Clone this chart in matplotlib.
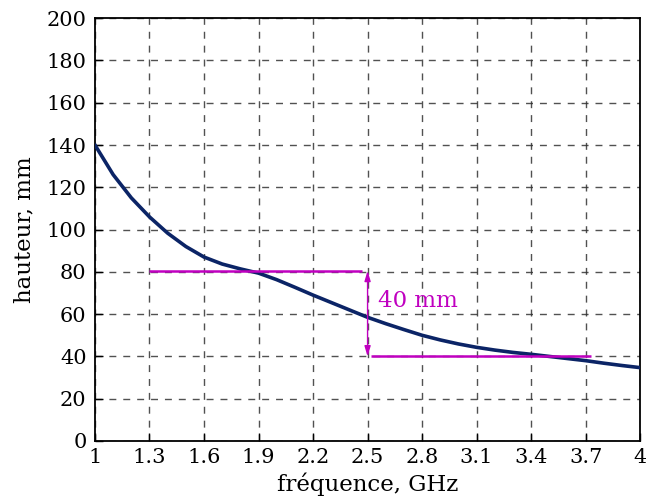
import matplotlib
matplotlib.use("Agg")
import matplotlib.pyplot as plt

# Height vs frequency curve
freq_ghz = [1.0, 1.1, 1.2, 1.3, 1.4, 1.5, 1.6, 1.7, 1.8, 1.9, 2.0,
            2.1, 2.2, 2.3, 2.4, 2.5, 2.6, 2.7, 2.8, 2.9, 3.0,
            3.1, 3.2, 3.3, 3.4, 3.5, 3.6, 3.7, 3.8, 3.9, 4.0]
height_mm = [140, 126, 115, 106, 98.3, 92, 87, 83.7, 81.4, 79.4, 76.3,
             72.7, 69, 65.5, 62, 58.5, 55.5, 52.7, 50, 47.8, 45.9,
             44.3, 43, 41.9, 41, 40, 39, 38, 36.8, 35.7, 34.7]

# Reference levels and annotation
upper_level = 80.5
lower_level = 40
upper_span = [1.3, 2.47]
lower_span = [2.52, 3.73]
arrow_x = 2.5
arrow_label = "40 mm"

x_ticks = [1, 1.3, 1.6, 1.9, 2.2, 2.5, 2.8, 3.1, 3.4, 3.7, 4]
x_tick_labels = ["1", "1.3", "1.6", "1.9", "2.2", "2.5", "2.8", "3.1", "3.4", "3.7", "4"]
y_ticks = list(range(0, 201, 20))

navy = "#0b2466"
magenta = "#c000c0"

plt.rcParams["font.family"] = ["DejaVu Serif"]

fig = plt.figure(figsize=(6.46, 5.04), dpi=100)
ax = fig.add_axes([0.147, 0.125, 0.844, 0.839])

ax.plot(freq_ghz, height_mm, color=navy, lw=2.6, solid_capstyle="round",
        solid_joinstyle="round", zorder=3)

ax.hlines(upper_level, upper_span[0], upper_span[1], color=magenta, lw=1.8, zorder=4)
ax.hlines(lower_level, lower_span[0], lower_span[1], color=magenta, lw=1.8, zorder=4)
ax.annotate("", xy=(arrow_x, lower_level), xytext=(arrow_x, upper_level),
            arrowprops=dict(arrowstyle="<|-|>,head_length=0.6,head_width=0.18",
                            color=magenta, lw=1.0, shrinkA=0, shrinkB=0), zorder=4)
ax.text(arrow_x + 0.06, 66, arrow_label, color=magenta, fontsize=16.5,
        ha="left", va="center", zorder=5)

ax.set_xlim(1, 4)
ax.set_ylim(0, 200)
ax.set_xticks(x_ticks)
ax.set_xticklabels(x_tick_labels)
ax.set_yticks(y_ticks)

ax.grid(True, color="#333333", ls=(0, (5, 5)), lw=1.0, alpha=0.85)
ax.tick_params(direction="in", length=6, width=1.0, labelsize=15)
ax.tick_params(axis="x", pad=5)
ax.tick_params(axis="y", pad=6)
for s in ax.spines.values():
    s.set_linewidth(1.3)

ax.set_xlabel("fréquence, GHz", fontsize=16.5, labelpad=4)
ax.set_ylabel("hauteur, mm", fontsize=16.5, labelpad=8)

fig.savefig("out.png", dpi=100)
